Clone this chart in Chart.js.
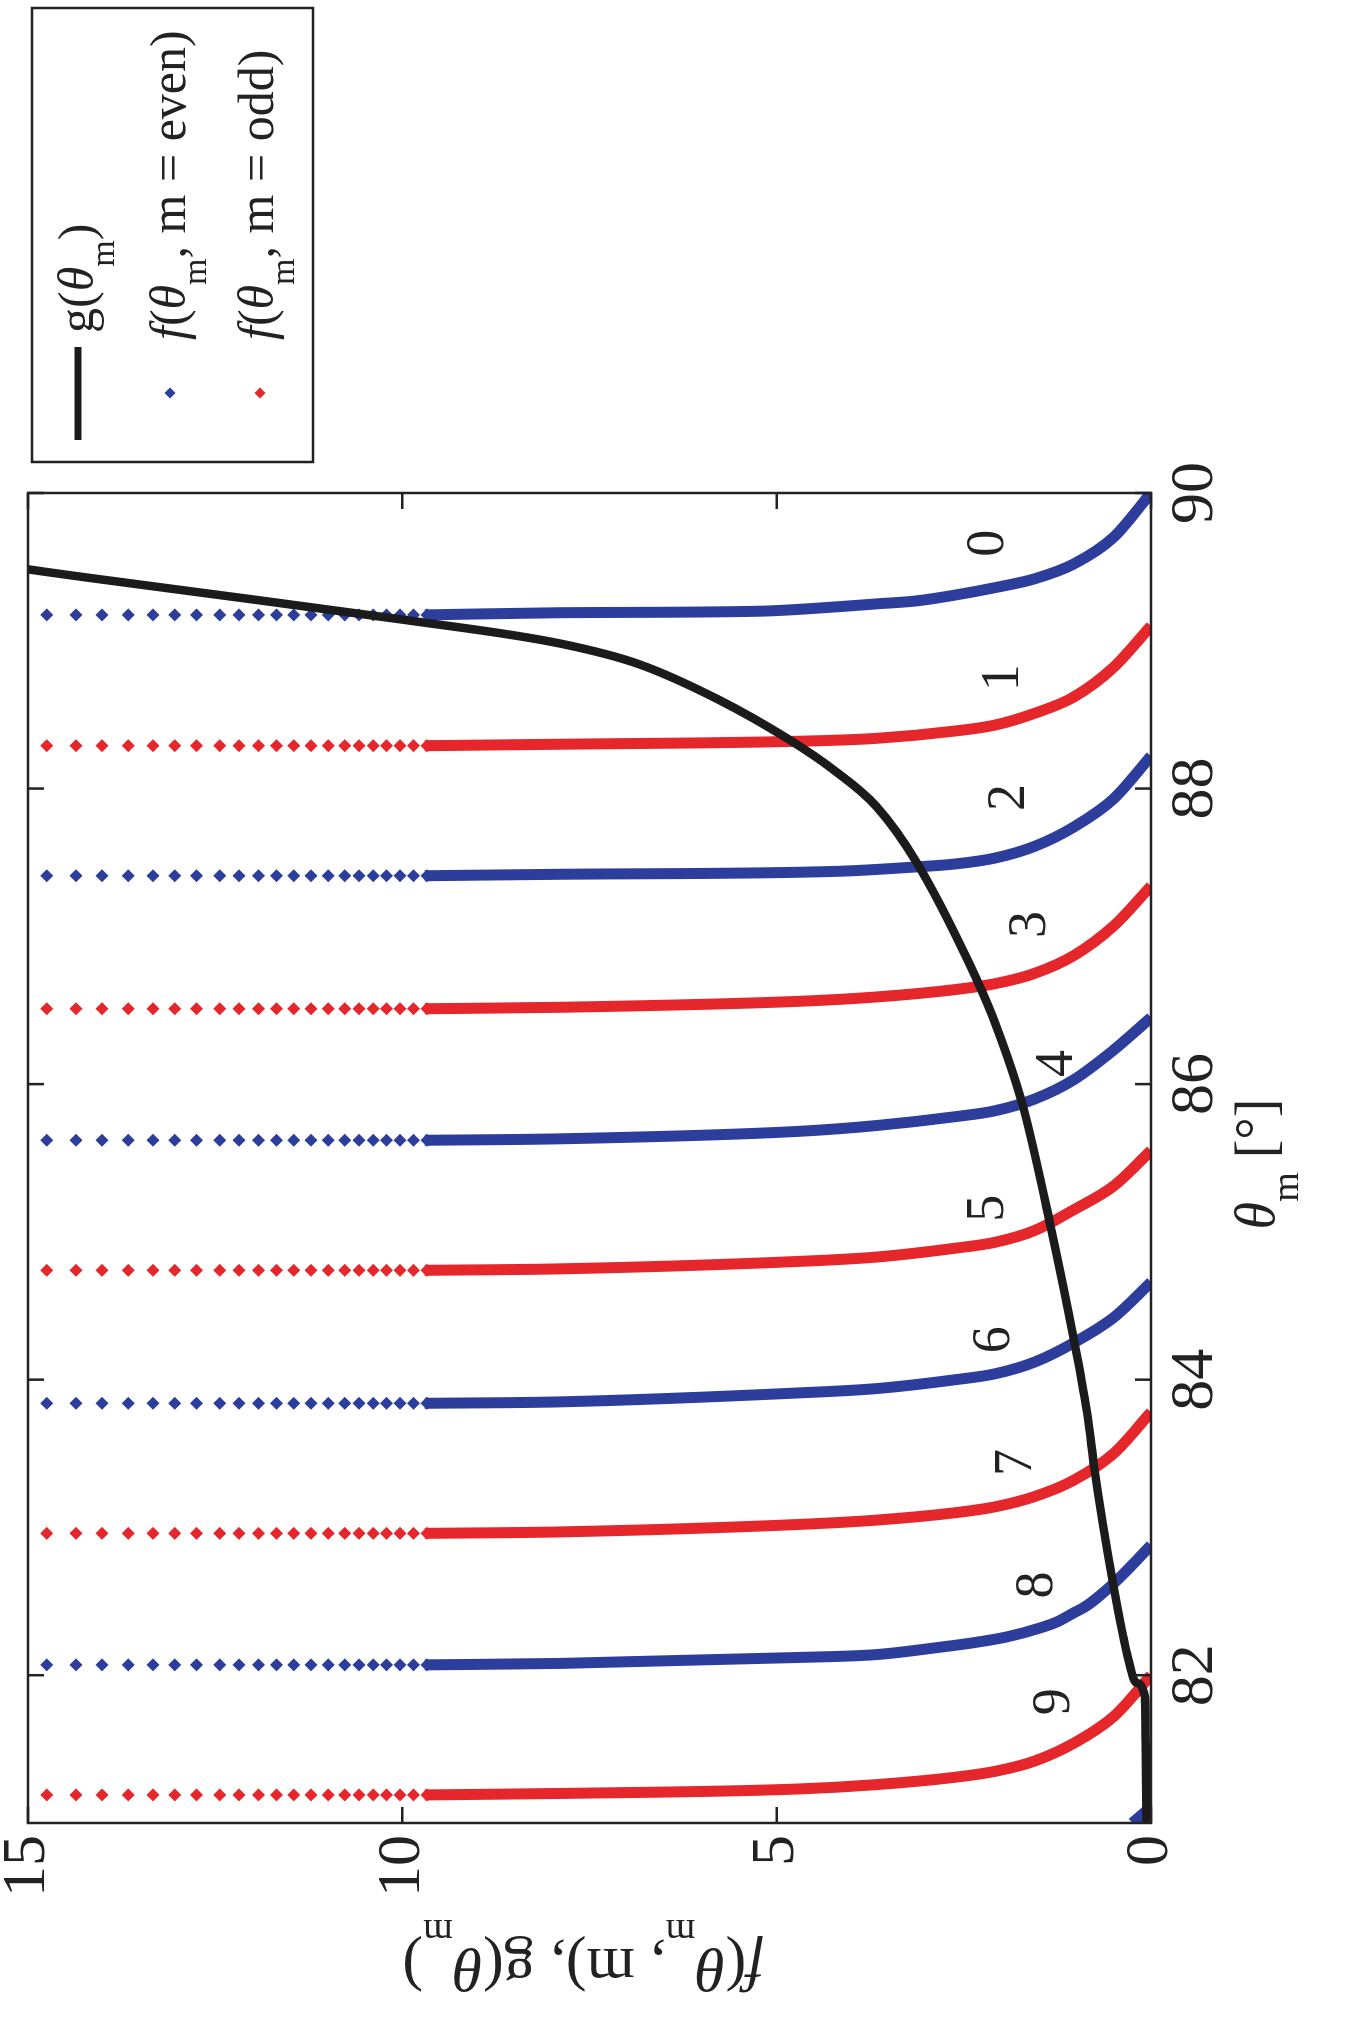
<!DOCTYPE html>
<html><head><meta charset="utf-8">
<script src="https://cdn.jsdelivr.net/npm/chart.js@4.4.1/dist/chart.umd.min.js"></script>
<style>
html,body{margin:0;padding:0;background:#fff;width:1351px;height:2019px;overflow:hidden}
#wrap{position:relative;width:1351px;height:2019px}
#c{position:absolute;left:0;top:0;transform-origin:0 0;transform:translate(0px,2019px) rotate(-90deg)}
</style></head><body><div id="wrap"><canvas id="c" width="2019" height="1351"></canvas></div>
<script>
// ---- data ----
const thetaTicks = [82, 84, 86, 88, 90];
const valueTicks = [0, 5, 10, 15];

const gTheta = [81.0, 81.5, 81.85, 81.95, 82.1, 82.6, 83.41, 83.73, 84.27, 85.06, 85.85, 86.41, 86.84, 87.5, 87.88, 88.13, 88.33, 88.6, 88.84, 88.98, 89.14, 89.35, 89.48, 89.5];
const gValue = [0.06, 0.07, 0.08, 0.2, 0.3, 0.5, 0.76, 0.84, 1.03, 1.35, 1.71, 2.08, 2.45, 3.13, 3.67, 4.25, 4.83, 5.77, 6.83, 7.88, 9.95, 13.05, 14.95, 15.2];

// f(theta, m) branches: [theta, value]
const fm0 = [[90,0],[89.70,0.5],[89.52,1.03],[89.42,1.55],[89.36,2.08],[89.31,2.61],[89.27,3.13],[89.25,3.66],[89.23,4.19],[89.20,5.24],[89.19,7.88],[89.175,9.7]];
const fm1 = [[89.10,0],[88.82,0.5],[88.62,1.03],[88.51,1.55],[88.43,2.08],[88.39,2.61],[88.34,3.66],[88.32,4.72],[88.30,7.88],[88.29,9.7]];
const fm2 = [[88.22,0],[87.93,0.5],[87.74,1.03],[87.61,1.55],[87.53,2.08],[87.49,2.61],[87.47,3.13],[87.44,4.19],[87.42,7.88],[87.41,9.7]];
const fm3 = [[87.34,0],[87.07,0.5],[86.87,1.03],[86.75,1.55],[86.68,2.08],[86.64,2.61],[86.59,3.66],[86.56,4.72],[86.52,7.88],[86.51,9.7]];
const fm4 = [[86.45,0],[86.23,0.5],[86.03,1.03],[85.90,1.55],[85.82,2.08],[85.78,2.61],[85.72,3.66],[85.68,4.72],[85.63,7.88],[85.62,9.7]];
const fm5 = [[85.55,0],[85.31,0.5],[85.15,1.03],[85.01,1.55],[84.93,2.08],[84.89,2.61],[84.83,3.66],[84.80,4.72],[84.75,7.88],[84.74,9.7]];
const fm6 = [[84.66,0],[84.42,0.5],[84.25,1.03],[84.12,1.55],[84.04,2.08],[84.00,2.61],[83.94,3.66],[83.91,4.72],[83.85,7.88],[83.84,9.7]];
const fm7 = [[83.78,0],[83.50,0.5],[83.32,1.03],[83.21,1.55],[83.14,2.08],[83.10,2.61],[83.05,3.66],[83.02,4.72],[82.97,7.88],[82.96,9.7]];
const fm8 = [[82.88,0],[82.80,0.15],[82.71,0.32],[82.62,0.5],[82.54,0.68],[82.47,0.86],[82.42,1.04],[82.36,1.26],[82.32,1.48],[82.26,1.92],[82.22,2.37],[82.19,2.81],[82.14,3.66],[82.12,4.72],[82.08,7.88],[82.07,9.7]];
const fm9 = [[82.00,0],[81.72,0.5],[81.54,1.03],[81.42,1.55],[81.35,2.08],[81.31,2.61],[81.26,3.66],[81.23,4.72],[81.20,7.88],[81.19,9.7]];
const fm10 = [[81.11,0],[81.0,0.25]];

// sparse samples near each asymptote (same sampling on every branch)
const dotValues = [14.75, 14.36, 14.01, 13.66, 13.33, 13.04, 12.75, 12.44, 12.18, 11.92, 11.68, 11.45, 11.22, 10.99, 10.77, 10.58, 10.39, 10.21, 10.03, 9.85, 9.67];

const curveLabels = ['0','1','2','3','4','5','6','7','8','9'];
const labelTheta = [89.66, 88.75, 87.94, 87.08, 86.14, 85.16, 84.27, 83.44, 82.61, 81.82];
const labelValue = [2.16, 1.97, 1.89, 1.61, 1.24, 2.16, 2.08, 1.79, 1.51, 1.29];

// ---- styles ----
const BLUE = '#2d3d9c', RED = '#e5262b', BLACK = '#1b1b1b', INK = '#222';
const FAM = '"Liberation Serif","Times New Roman",serif';

const curves = [fm0, fm1, fm2, fm3, fm4, fm5, fm6, fm7, fm8, fm9, fm10];

function fontOf(seg, size, subScale){
  const s = seg[1];
  if (s === 'i') return `italic ${size}px ${FAM}`;
  if (s === 's') return `${Math.round(size*subScale)}px ${FAM}`;
  return `${size}px ${FAM}`;
}
function drawRich(ctx, segs, x, baseline, size, align, subScale, subOff){
  let w = 0;
  segs.forEach(sg => { ctx.font = fontOf(sg, size, subScale); w += ctx.measureText(sg[0]).width; });
  let cx = align === 'center' ? x - w/2 : x;
  ctx.textAlign = 'left'; ctx.textBaseline = 'alphabetic';
  segs.forEach(sg => {
    ctx.font = fontOf(sg, size, subScale);
    ctx.fillText(sg[0], cx, sg[1] === 's' ? baseline + size*subOff : baseline);
    cx += ctx.measureText(sg[0]).width;
  });
}
function diamond(ctx, x, y, r, col){
  ctx.fillStyle = col; ctx.beginPath();
  ctx.moveTo(x, y-r); ctx.lineTo(x+r, y); ctx.lineTo(x, y+r); ctx.lineTo(x-r, y); ctx.closePath(); ctx.fill();
}

const deco = {
  id: 'deco',
  beforeDraw(chart){
    const c = chart.ctx; c.save(); c.fillStyle = '#fff'; c.fillRect(0,0,chart.width,chart.height); c.restore();
  },
  afterDraw(chart){
    const ctx = chart.ctx, a = chart.chartArea, xs = chart.scales.x, ys = chart.scales.y;
    ctx.save();
    // frame + inward ticks
    ctx.strokeStyle = INK; ctx.lineWidth = 2.5;
    ctx.strokeRect(a.left, a.top, a.right - a.left, a.bottom - a.top);
    ctx.beginPath();
    thetaTicks.forEach(t => { const px = xs.getPixelForValue(t);
      ctx.moveTo(px, a.bottom); ctx.lineTo(px, a.bottom - 16); ctx.moveTo(px, a.top); ctx.lineTo(px, a.top + 16); });
    valueTicks.forEach(v => { const py = ys.getPixelForValue(v);
      ctx.moveTo(a.left, py); ctx.lineTo(a.left + 16, py); ctx.moveTo(a.right, py); ctx.lineTo(a.right - 16, py); });
    ctx.stroke();
    // branch labels
    ctx.fillStyle = INK; ctx.font = `54px ${FAM}`; ctx.textAlign = 'center'; ctx.textBaseline = 'middle';
    curveLabels.forEach((s, i) => ctx.fillText(s, xs.getPixelForValue(labelTheta[i]), ys.getPixelForValue(labelValue[i])));
    // x title
    ctx.fillStyle = INK;
    drawRich(ctx, [['θ','i'],['m','s'],[' [°]','n']], (a.left + a.right)/2 - 6, 1274, 56, 'center', 0.68, 0.42);
    // y title
    ctx.save();
    ctx.translate(54, 583);
    ctx.rotate(-Math.PI/2);
    drawRich(ctx, [['f','i'],['(','n'],['θ','i'],['m','s'],[', m), ','n'],['g','n'],['(','n'],['θ','i'],['m','s'],[')','n']], 0, 16, 62, 'center', 0.62, 0.46);
    ctx.restore();
    // legend
    ctx.fillStyle = '#fff'; ctx.fillRect(1557, 32, 454, 281);
    ctx.strokeStyle = INK; ctx.lineWidth = 2.5; ctx.strokeRect(1557, 32, 454, 281);
    ctx.strokeStyle = BLACK; ctx.lineWidth = 7; ctx.beginPath(); ctx.moveTo(1579, 78); ctx.lineTo(1672, 78); ctx.stroke();
    ctx.fillStyle = INK;
    drawRich(ctx, [['g','n'],['(','n'],['θ','i'],['m','s'],[')','n']], 1686, 93, 50, 'left', 0.68, 0.42);
    diamond(ctx, 1626, 170, 5.5, BLUE);
    ctx.fillStyle = INK;
    drawRich(ctx, [['f','i'],['(','n'],['θ','i'],['m','s'],[', m = even)','n']], 1679, 185, 50, 'left', 0.68, 0.42);
    diamond(ctx, 1626, 260, 5.5, RED);
    ctx.fillStyle = INK;
    drawRich(ctx, [['f','i'],['(','n'],['θ','i'],['m','s'],[', m = odd)','n']], 1679, 273, 50, 'left', 0.68, 0.42);
    ctx.restore();
  }
};

const datasets = [];
datasets.push({ label: 'g', data: gTheta.map((t, i) => ({x: t, y: gValue[i]})), indexAxis: 'y',
  borderColor: BLACK, borderWidth: 8.5, pointRadius: 0, cubicInterpolationMode: 'monotone', order: 0 });
curves.forEach((c, m) => datasets.push({ label: 'f' + m, data: c.map(p => ({x: p[0], y: p[1]})), indexAxis: 'y',
  borderColor: m % 2 ? RED : BLUE, borderWidth: 11, pointRadius: 0, cubicInterpolationMode: 'monotone', order: 2 }));
const dots = par => curves.slice(0, 10).filter((c, m) => m % 2 === par)
  .flatMap(c => dotValues.map(v => ({x: c[c.length - 1][0], y: v})));
datasets.push({ label: 'even', data: dots(0), showLine: false, pointStyle: 'rectRot', pointRadius: 6.5,
  pointBackgroundColor: BLUE, pointBorderWidth: 0, order: 1 });
datasets.push({ label: 'odd', data: dots(1), showLine: false, pointStyle: 'rectRot', pointRadius: 6.5,
  pointBackgroundColor: RED, pointBorderWidth: 0, order: 1 });

new Chart(document.getElementById('c'), {
  type: 'line',
  data: { datasets },
  options: {
    responsive: false, animation: false, devicePixelRatio: 1,
    layout: { padding: { top: 28, right: 493, left: 0, bottom: 0 } },
    plugins: { legend: { display: false }, tooltip: { enabled: false } },
    scales: {
      x: { type: 'linear', min: 81, max: 90,
        afterBuildTicks: s => { s.ticks = thetaTicks.map(v => ({value: v})); },
        afterFit: s => { s.height = 200; s.paddingLeft = 0; s.paddingRight = 0; },
        grid: { display: false, drawTicks: false, tickLength: 0 }, border: { display: false },
        ticks: { font: { family: FAM, size: 62 }, color: INK, padding: 8, maxRotation: 0, autoSkip: false } },
      y: { type: 'linear', min: 0, max: 15,
        afterBuildTicks: s => { s.ticks = valueTicks.map(v => ({value: v})); },
        afterFit: s => { s.width = 196; s.paddingTop = 0; s.paddingBottom = 0; },
        grid: { display: false, drawTicks: false, tickLength: 0 }, border: { display: false },
        ticks: { font: { family: FAM, size: 62 }, color: INK, padding: 12, autoSkip: false } }
    }
  },
  plugins: [deco]
});
</script></body></html>
